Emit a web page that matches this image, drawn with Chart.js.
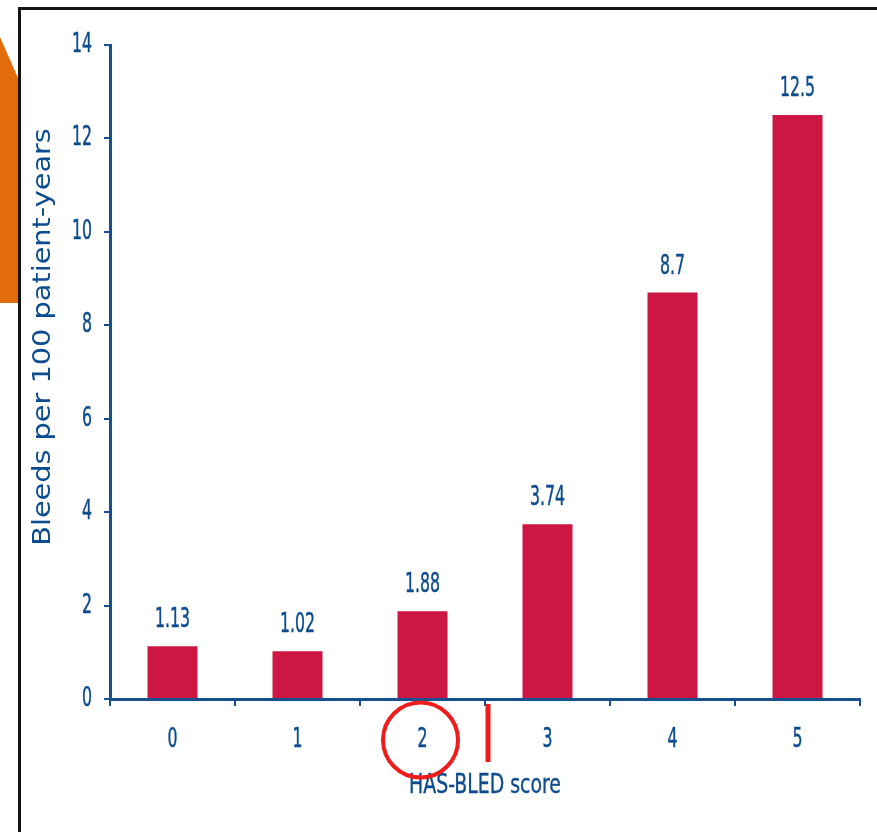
<!DOCTYPE html>
<html>
<head>
<meta charset="utf-8">
<title>Bleeds by HAS-BLED score</title>
<script src="https://cdn.jsdelivr.net/npm/chart.js@4.4.0/dist/chart.umd.min.js"></script>
<style>
    html, body { margin: 0; padding: 0; background: #fff; overflow: hidden; }
    #wrap { position: relative; width: 877px; height: 832px; }
    #tab {
        position: absolute; left: 0; top: 0; width: 18px; height: 303px;
        background: #e36c0a;
        clip-path: polygon(0 37px, 100% 78px, 100% 100%, 0 100%);
    }
    #frame {
        position: absolute; left: 18px; top: 7px; width: 900px; height: 900px;
        border: 3px solid #141414; box-sizing: border-box; background: #fff;
    }
    #chart { position: absolute; left: 0; top: 0; }
</style>
</head>
<body>
<div id="wrap">
    <div id="tab"></div>
    <div id="frame"></div>
    <canvas id="chart" width="877" height="832"></canvas>
</div>
<script>
// HAS-BLED score vs bleeding rate
const scores = ['0', '1', '2', '3', '4', '5'];
const bleedRates = [1.13, 1.02, 1.88, 3.74, 8.7, 12.5];
const rateLabels = ['1.13', '1.02', '1.88', '3.74', '8.7', '12.5'];
const yTicks = [0, 2, 4, 6, 8, 10, 12, 14];

const TEXT_BLUE = '#0d4c8e';
const AXIS_BLUE = '#17508f';
const BAR_RED = '#cb1742';
const MARK_RED = '#ee1c1c';

// text in the slide is drawn tall and narrow, so labels get a vertical stretch
function stretchedText(ctx, text, x, y, font, sy, align) {
    ctx.save();
    ctx.translate(x, y);
    ctx.scale(1, sy);
    ctx.font = font;
    ctx.textAlign = align || 'center';
    ctx.textBaseline = 'middle';
    ctx.fillText(text, 0, 0);
    ctx.lineWidth = 0.3;
    ctx.strokeText(text, 0, 0);
    ctx.restore();
}

const labelPlugin = {
    id: 'slideLabels',
    afterDraw(chart) {
        const ctx = chart.ctx;
        const xs = chart.scales.x;
        const ys = chart.scales.y;
        const area = chart.chartArea;
        const numFont = '17.5px "DejaVu Sans Condensed", "DejaVu Sans", sans-serif';

        ctx.fillStyle = TEXT_BLUE;
        ctx.strokeStyle = TEXT_BLUE;

        // y tick labels
        yTicks.forEach(v => {
            stretchedText(ctx, String(v), area.left - 18, ys.getPixelForValue(v), numFont, 1.55, 'right');
        });

        // x tick labels
        scores.forEach((s, i) => {
            stretchedText(ctx, s, xs.getPixelForValue(i), area.bottom + 41, numFont, 1.55);
        });

        // value labels above the bars
        const meta = chart.getDatasetMeta(0);
        meta.data.forEach((bar, i) => {
            stretchedText(ctx, rateLabels[i], bar.x, bar.y - 26, numFont, 1.55);
        });

        // axis titles
        stretchedText(ctx, 'HAS-BLED score', (area.left + area.right) / 2, area.bottom + 87,
            '21px "DejaVu Sans Condensed", "DejaVu Sans", sans-serif', 1.3);

        ctx.save();
        ctx.translate(43, 337);
        ctx.rotate(-Math.PI / 2);
        ctx.scale(1.15, 1);
        ctx.font = '25px "DejaVu Sans", Verdana, sans-serif';
        ctx.textAlign = 'center';
        ctx.textBaseline = 'middle';
        ctx.fillText('Bleeds per 100 patient-years', 0, 0);
        ctx.restore();

        // red highlight: circle round score 2 and a divider before score 3
        ctx.save();
        ctx.strokeStyle = MARK_RED;
        ctx.lineWidth = 4;
        ctx.beginPath();
        ctx.arc(xs.getPixelForValue(2) - 2, area.bottom + 41, 37.5, 0, Math.PI * 2);
        ctx.stroke();

        const divX = (xs.getPixelForValue(2) + xs.getPixelForValue(3)) / 2 + 3;
        ctx.lineWidth = 5;
        ctx.beginPath();
        ctx.moveTo(divX, area.bottom + 5);
        ctx.lineTo(divX, area.bottom + 63);
        ctx.stroke();
        ctx.restore();
    }
};

new Chart(document.getElementById('chart'), {
    type: 'bar',
    data: {
        labels: scores,
        datasets: [{
            data: bleedRates,
            backgroundColor: BAR_RED,
            borderWidth: 0,
            barPercentage: 0.4,
            categoryPercentage: 1
        }]
    },
    options: {
        responsive: false,
        animation: false,
        devicePixelRatio: 1,
        layout: { padding: { left: 104, top: 45, right: 17, bottom: 126 } },
        plugins: {
            legend: { display: false },
            tooltip: { enabled: false }
        },
        scales: {
            x: {
                ticks: { display: false },
                grid: {
                    drawOnChartArea: false,
                    drawTicks: true,
                    tickLength: 7,
                    color: AXIS_BLUE,
                    lineWidth: 2
                },
                border: { color: AXIS_BLUE, width: 3 }
            },
            y: {
                min: 0,
                max: 14,
                ticks: { display: false, stepSize: 2 },
                grid: {
                    drawOnChartArea: false,
                    drawTicks: true,
                    tickLength: 6,
                    color: AXIS_BLUE,
                    lineWidth: 2
                },
                border: { color: AXIS_BLUE, width: 3 }
            }
        }
    },
    plugins: [labelPlugin]
});
</script>
</body>
</html>
